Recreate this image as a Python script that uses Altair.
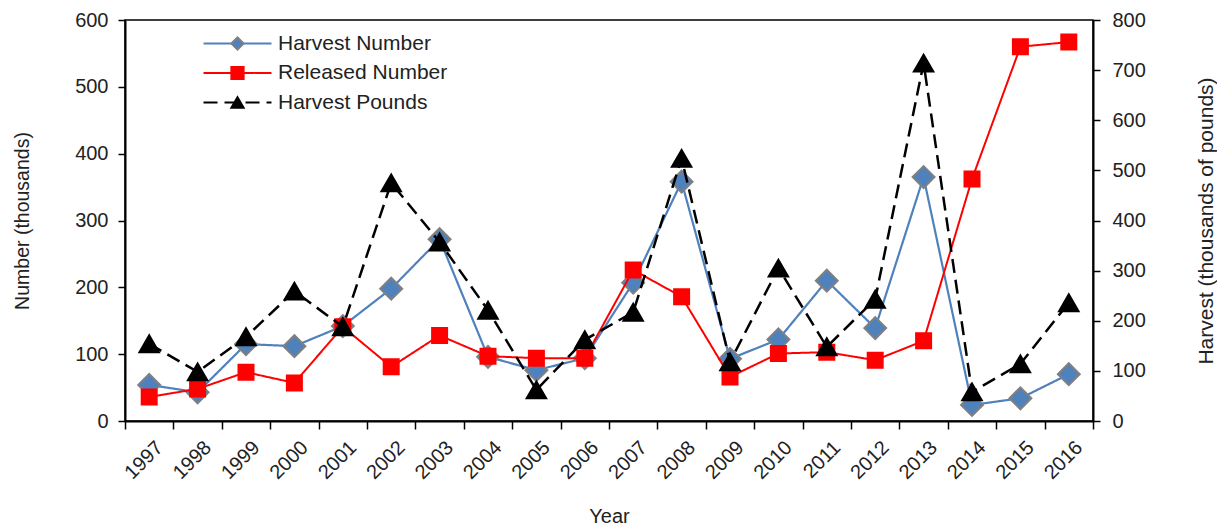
import altair as alt
import pandas as pd

years = ["1997", "1998", "1999", "2000", "2001", "2002", "2003", "2004", "2005", "2006",
         "2007", "2008", "2009", "2010", "2011", "2012", "2013", "2014", "2015", "2016"]
harvest_number = [54, 43, 115, 112, 142, 198, 272, 96, 76, 94, 207, 358, 93, 122, 210, 139, 365, 24, 34, 70]
released_number = [36, 48, 73, 57, 141, 81, 128, 97, 94, 94, 226, 186, 66, 101, 103, 91, 120, 362, 560, 567]
harvest_pounds = [154, 98, 168, 259, 188, 475, 357, 221, 62, 162, 217, 524, 118, 305, 148, 243, 714, 58, 114, 236]

series_names = ["Harvest Number", "Released Number", "Harvest Pounds"]
marker_keys = ["m1", "m2", "m3"]
line_colors = ["#4F81BD", "#FF0000", "#000000"]
marker_fills = ["#4F81BD", "#FF0000", "#000000"]
marker_strokes = ["#808080", "#FF0000", "#000000"]

rows = []
for name, key, vals in zip(series_names, marker_keys, [harvest_number, released_number, harvest_pounds]):
    for yr, v in zip(years, vals):
        rows.append({"Year": yr, "series": name, "marker": key, "value": v})
df = pd.DataFrame(rows)

FONT = "Liberation Sans"
TXT = "#222222"

LX, LY = 102, 13
common_leg = dict(title=None, orient="none", legendX=LX, legendY=LY, direction="vertical",
                  symbolSize=150, symbolStrokeWidth=2, labelFontSize=21, labelFont=FONT,
                  labelColor=TXT, rowPadding=7.5, padding=0, labelOffset=30, labelLimit=400)
line_legend = alt.Legend(symbolType="M-5.55,0H5.55", **common_leg)
marker_legend = alt.Legend(labelOpacity=0, labelExpr="''", **common_leg)

x = alt.X("Year:N", sort=years,
          scale=alt.Scale(type="band", paddingInner=0, paddingOuter=0),
          axis=alt.Axis(title="Year", labelAngle=-45, labelAlign="right", labelBaseline="top",
                        labelFontSize=20, labelPadding=8, labelOffset=3, tickBand="extent",
                        tickSize=8, titleY=101, titleBaseline="alphabetic", titleFontSize=20))

color = alt.Color("series:N", scale=alt.Scale(domain=series_names, range=line_colors), legend=line_legend)
dash = alt.StrokeDash("series:N", scale=alt.Scale(domain=series_names, range=[[1, 0], [1, 0], [14, 7]]),
                      legend=line_legend)
shape = alt.Shape("marker:N", scale=alt.Scale(domain=marker_keys, range=["diamond", "square", "triangle-up"]),
                  legend=marker_legend)
fill = alt.Fill("marker:N", scale=alt.Scale(domain=marker_keys, range=marker_fills), legend=marker_legend)
stroke = alt.Stroke("marker:N", scale=alt.Scale(domain=marker_keys, range=marker_strokes), legend=marker_legend)

y_left = alt.Y("value:Q", scale=alt.Scale(domain=[0, 600]),
               axis=alt.Axis(title="Number  (thousands)", values=[0, 100, 200, 300, 400, 500, 600],
                             tickSize=7, labelPadding=10, titleAngle=270, titleX=-103,
                             titleBaseline="middle", titleFontSize=19.5))
y_right = alt.Y("value:Q", scale=alt.Scale(domain=[0, 800]),
                axis=alt.Axis(orient="right", title="Harvest  (thousands  of  pounds)",
                              values=[0, 100, 200, 300, 400, 500, 600, 700, 800],
                              tickSize=7, labelPadding=12, titleAngle=270, titleX=113,
                              titleBaseline="middle", titleFontSize=21))

base = alt.Chart(df)


def series_layers(name, y, width, size):
    ln = base.mark_line(strokeWidth=width).encode(x=x, y=y, color=color, strokeDash=dash).transform_filter(
        alt.datum.series == name)
    pt = base.mark_point(filled=True, size=size, strokeWidth=2, opacity=1).encode(
        x=x, y=y, shape=shape, fill=fill, stroke=stroke).transform_filter(alt.datum.series == name)
    return [ln, pt]


left = alt.layer(*(series_layers("Harvest Number", y_left, 2.2, 480) +
                   series_layers("Released Number", y_left, 2, 225)))
right = alt.layer(*series_layers("Harvest Pounds", y_right, 2.5, 380))

chart = alt.layer(left, right).resolve_scale(y="independent").properties(
    width=968, height=401,
    autosize=alt.AutoSizeParams(type="none"),
    padding={"left": 117, "top": 12, "right": 124, "bottom": 104},
).configure_view(stroke="black", strokeWidth=1.5).configure_axis(
    domainColor="black", domainWidth=2, tickColor="black", tickWidth=1.5, grid=False,
    labelFont=FONT, labelFontSize=20, labelColor=TXT,
    titleFont=FONT, titleFontSize=19, titleFontWeight="normal", titleColor=TXT,
)

chart.save("out.html", embed_options={"renderer": "svg", "actions": False})
